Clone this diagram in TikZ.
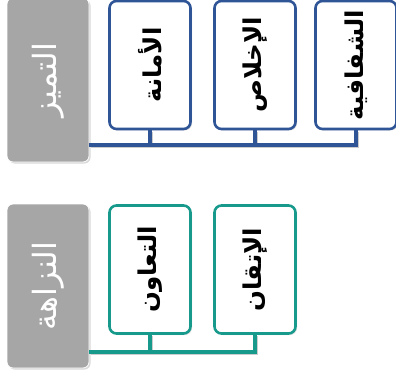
\documentclass[tikz,border=0pt]{standalone}
\usepackage{fontspec}
\usepackage{tikz}
\usetikzlibrary{shadows,calc}
\TeXXeTstate=1
\newfontfamily\arabicfont[Script=Arabic]{DejaVu Sans}
\definecolor{tblue}{HTML}{2F5597}
\definecolor{tteal}{HTML}{17998C}
\definecolor{tgray}{HTML}{A6A6A6}
\tikzset{catbox/.style = {rectangle, rounded corners=6pt, fill=tgray, draw=white, line width=0.8pt,
    minimum width=82pt, minimum height=164pt, inner sep=0pt, text=white,
    font=\arabicfont\fontsize{32}{36}\selectfont,
    drop shadow={opacity=0.3, shadow xshift=1.5pt, shadow yshift=-1.5pt}}}
\tikzset{valbox/.style = {rectangle, rounded corners=7pt, fill=white, line width=2.6pt,
    minimum width=81pt, minimum height=128pt, inner sep=0pt, text=black,
    font=\arabicfont\bfseries\fontsize{24.5}{28}\selectfont,
    drop shadow={opacity=0.25, shadow xshift=1.5pt, shadow yshift=-1.5pt}}}
\tikzset{bus/.style = {line width=3.4pt,
    preaction={draw=black!20, line width=3.4pt, transform canvas={shift={(1.5pt,-1.5pt)}}}}}

\begin{document}
\begin{tikzpicture}[x=1pt, y=-1pt]
    \useasboundingbox (0,0) rectangle (396,377);

    % first group
    \node[catbox] (tamayuz) at (48,80) {\rotatebox{90}{\beginR التميز\endR}};
    \node[valbox, draw=tblue] (amana) at (150,65) {\rotatebox{90}{\beginR الأمانة\endR}};
    \node[valbox, draw=tblue] (ikhlas) at (255,65) {\rotatebox{90}{\beginR الإخلاص\endR}};
    \node[valbox, draw=tblue] (shafafiya) at (356,65) {\rotatebox{90}{\beginR الشفافية\endR}};
    \coordinate (bus1) at (0,145);

    % second group
    \node[catbox] (nazaha) at (48,286) {\rotatebox{90}{\beginR النزاهة\endR}};
    \node[valbox, draw=tteal] (taawun) at (150,269.5) {\rotatebox{90}{\beginR التعاون\endR}};
    \node[valbox, draw=tteal] (itqan) at (255,269.5) {\rotatebox{90}{\beginR الإتقان\endR}};
    \coordinate (bus2) at (0,352);

    % drops from the boxes down to the bus
    \foreach \v in {amana,ikhlas}{
        \draw[bus, tblue] (\v.south) -- (\v.south |- bus1); }
    \draw[bus, tteal] (taawun.south) -- (taawun.south |- bus2);

    % bus lines
    \draw[bus, tblue] (tamayuz.east |- bus1) -| (shafafiya.south);
    \draw[bus, tteal] (nazaha.east |- bus2) -| (itqan.south);
\end{tikzpicture}
\end{document}
